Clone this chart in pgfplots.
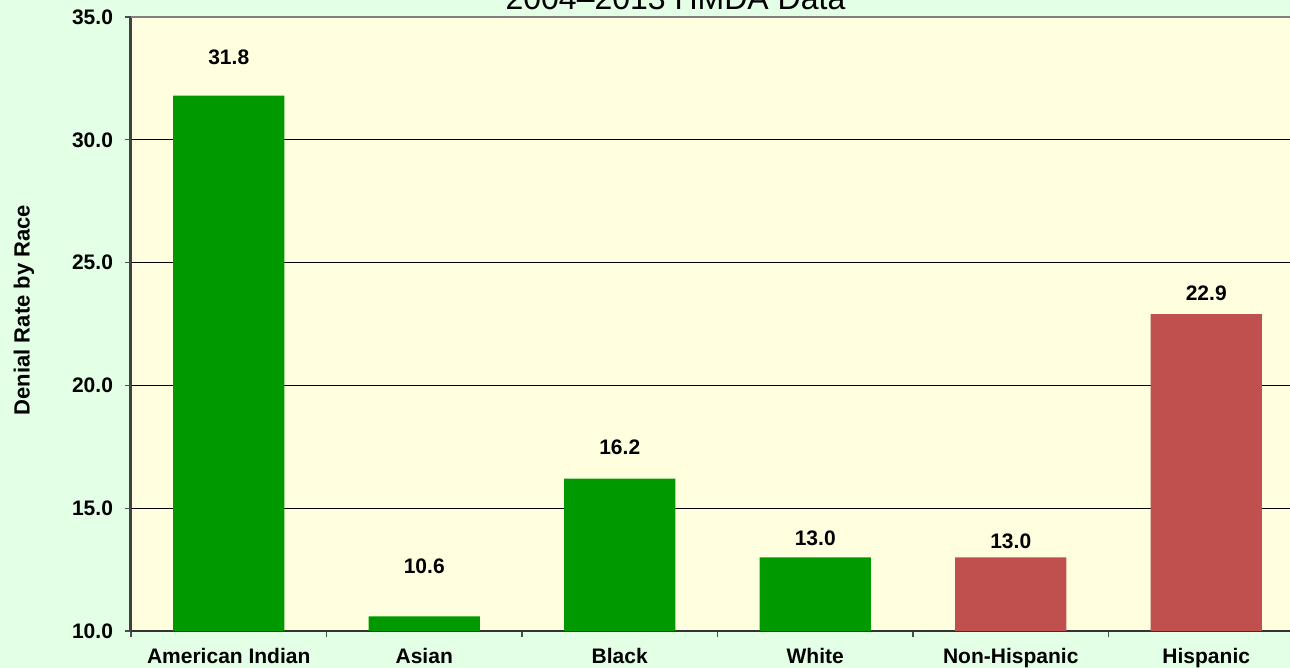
\documentclass[border=0pt]{standalone}
\usepackage{fontspec}
\setmainfont{Liberation Sans}
\usepackage{pgfplots}
\pgfplotsset{compat=1.18}
\definecolor{bgg}{RGB}{227,255,230}
\definecolor{plotbg}{RGB}{255,255,224}
\definecolor{barg}{RGB}{0,153,0}
\definecolor{barr}{RGB}{192,80,77}
\begin{document}
\begin{tikzpicture}[x=1pt,y=1pt]
\useasboundingbox (0,0) rectangle (645,334);
\clip (0,0) rectangle (645,334);
\fill[bgg] (0,0) rectangle (645,334);
\begin{axis}[
  at={(65.5pt,18.5pt)}, anchor=south west,
  scale only axis, width=586.5pt, height=307pt,
  xmin=-0.5, xmax=5.5, ymin=10, ymax=35,
  axis background/.style={fill=plotbg},
  axis x line=bottom, axis y line=left,
  axis line style={-},
  x axis line style={draw=black!80, line width=0.6pt},
  y axis line style={draw=black!75, line width=1.5pt},
  tick align=outside,
  major tick length=3pt, minor tick length=3pt,
  xtick={0,1,2,3,4,5},
  xticklabels={American Indian, Asian, Black, White, Non-Hispanic, Hispanic},
  minor xtick={-0.5,0.5,1.5,2.5,3.5,4.5,5.5},
  major x tick style={draw=none},
  minor x tick style={draw=black!70, line width=0.6pt},
  ytick={10,15,20,25,30,35},
  y tick style={draw=black!70, line width=0.6pt},
  ymajorgrids, major grid style={black, line width=0.5pt},
  yticklabel style={font=\bfseries\fontsize{10.5}{12}\selectfont, xshift=-2.5pt},
  xticklabel style={font=\bfseries\fontsize{10.5}{12}\selectfont, yshift=-2pt},
  /pgf/number format/.cd, fixed, fixed zerofill, precision=1, assume math mode=true,
  /pgfplots/.cd,
  ybar, bar width=0.57, bar shift=0pt,
]
\addplot[fill=barg, draw=none] coordinates {(0,31.8) (1,10.6) (2,16.2) (3,13.0)};
\addplot[fill=barr, draw=none] coordinates {(4,13.0) (5,22.9)};
\begin{scope}[every node/.style={font=\bfseries\fontsize{10.5}{12}\selectfont, anchor=base}]
\node at (axis cs:0,33.05) {31.8};
\node at (axis cs:1,12.35) {10.6};
\node at (axis cs:2,17.17) {16.2};
\node at (axis cs:3,13.50) {13.0};
\node at (axis cs:4,13.34) {13.0};
\node at (axis cs:5,23.45) {22.9};
\end{scope}
\end{axis}
\draw[black!50, line width=1pt] (65.5,325.5) -- (652,325.5);
\node[anchor=base, font=\fontsize{16}{19}\selectfont] at (337.75,329) {2004–2013 HMDA Data};
\node[rotate=90, font=\bfseries\fontsize{11}{13}\selectfont] at (12,179) {Denial Rate by Race};
\end{tikzpicture}
\end{document}
